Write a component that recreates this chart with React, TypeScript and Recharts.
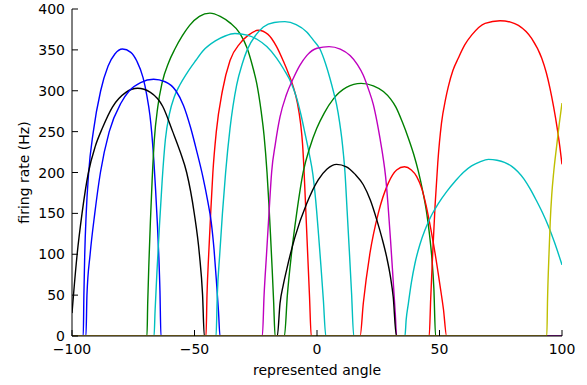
import React from 'react';
import { LineChart, Line, XAxis, YAxis } from 'recharts';

type Pt = [number, number];

// Tuning curves: [represented angle, firing rate (Hz)]
const blueA: Pt[] = [
  [-100, 0], [-95.4, 0], [-95.15, 50], [-94.8, 100], [-94.2, 150], [-93.2, 200], [-91.3, 250],
  [-88.3, 300], [-85.3, 330], [-82.5, 345], [-79.4, 351], [-76, 347], [-73.5, 336], [-71, 316],
  [-69.5, 295], [-68.2, 270], [-67.5, 250], [-66.6, 215], [-65.9, 180], [-65.2, 140],
  [-64.6, 100], [-64.1, 55], [-63.7, 0], [100, 0],
];
const greenA: Pt[] = [
  [-100, 0], [-69.4, 0], [-69.1, 40], [-68.6, 90], [-68, 140], [-67.3, 190], [-66.4, 240],
  [-65, 280], [-63.2, 310], [-60.5, 335], [-58, 351], [-55, 367], [-52, 380], [-48, 391],
  [-43.7, 395], [-39.5, 391], [-35.5, 383], [-31.4, 370], [-28.5, 352], [-26.3, 330],
  [-24.6, 309], [-22.8, 275], [-21.6, 245], [-20.4, 200], [-19.7, 165], [-19, 125],
  [-18.3, 82], [-17.7, 42], [-17.1, 0], [100, 0],
];
const redA: Pt[] = [
  [-100, 0], [-45.3, 0], [-44.9, 50], [-44.2, 100], [-43.4, 150], [-42.5, 200], [-41.1, 250],
  [-38.6, 300], [-35.5, 337], [-31.4, 358], [-28, 368], [-24, 374], [-20, 369], [-16.5, 354],
  [-13.7, 336], [-11.5, 320], [-9.7, 305], [-8, 285], [-6.7, 260], [-5.9, 235], [-5.3, 203],
  [-4.55, 152], [-3.8, 100], [-3.05, 48], [-2.35, 0], [100, 0],
];
const cyanA: Pt[] = [
  [-100, 0], [-66.5, 0], [-66.1, 30], [-65.3, 80], [-64.3, 135], [-63.2, 190], [-61.9, 240],
  [-60.2, 272], [-58.2, 293], [-56, 307], [-53, 322], [-49.5, 337], [-46.5, 349],
  [-41.5, 361], [-37.5, 367], [-33.5, 370], [-28.5, 368], [-24.5, 363], [-20.5, 354],
  [-16.5, 340], [-13.5, 326], [-10.3, 308], [-8.2, 290], [-6.5, 270], [-4.7, 245],
  [-3.1, 222], [-1.7, 198], [-0.5, 165], [0.6, 125], [1.6, 86], [2.6, 44], [3.6, 0], [100, 0],
];
const blackA: Pt[] = [
  [-100, 28], [-99.4, 50], [-97.9, 100], [-95.9, 150], [-93.3, 200], [-90.5, 232],
  [-87.5, 255], [-83.5, 280], [-78, 298], [-73.2, 303], [-68, 298], [-63, 281], [-58.9, 250],
  [-55.8, 225], [-53.2, 200], [-50.1, 150], [-48, 100], [-46.7, 50], [-46, 0], [100, 0],
];
const blueB: Pt[] = [
  [-100, 0], [-94.3, 0], [-93.9, 50], [-92.6, 100], [-90.7, 150], [-88.4, 200], [-84.8, 250],
  [-80, 285], [-76.6, 300], [-72, 310], [-66.7, 314], [-62, 311], [-57.6, 300], [-54.5, 282],
  [-51.6, 255], [-49, 225], [-46.6, 195], [-44.6, 165], [-43.2, 140], [-42, 105], [-41, 65],
  [-40.2, 30], [-39.6, 0], [100, 0],
];
const greenB: Pt[] = [
  [-100, 0], [-13.3, 0], [-12.1, 50], [-10.4, 101], [-8.3, 150], [-5.6, 201], [-3, 230],
  [-0.1, 254], [3, 273], [6.7, 290], [12, 304], [18, 309], [23, 306], [27.1, 299], [30, 290],
  [32.2, 280], [34.8, 262], [37.3, 242], [39.5, 222], [41.4, 201], [43.3, 175], [44.8, 150],
  [46, 122], [46.9, 95], [47.7, 58], [48.4, 0], [100, 0],
];
const redB: Pt[] = [
  [-100, 0], [17.6, 0], [18.9, 40], [21.6, 101], [25, 150], [29.1, 187], [32.5, 203],
  [35.7, 207], [38.5, 203], [40.7, 195], [42.8, 180], [44.5, 160], [46.5, 130], [48.2, 101],
  [50.2, 62], [51.6, 33], [52.9, 0], [100, 0],
];
const cyanB: Pt[] = [
  [-100, 0], [-41.2, 0], [-40.7, 50], [-39.7, 100], [-38.6, 150], [-37.3, 200], [-35.5, 254],
  [-32.8, 307], [-30.5, 333], [-28.5, 350], [-25, 368], [-21.9, 378], [-17.5, 383.5],
  [-13.1, 384.5], [-8.5, 381], [-4.2, 372], [-1.5, 362], [1.2, 351], [3.5, 333], [5.3, 315],
  [6.8, 298], [8, 283], [9.2, 262], [10.1, 242], [10.8, 222], [11.4, 201], [12.3, 153],
  [13.2, 104], [14.1, 53], [15, 0], [100, 0],
];
const magentaB: Pt[] = [
  [-100, 0], [-22.3, 0], [-21.6, 50], [-20.6, 100], [-19.6, 150], [-18.5, 201], [-17, 235],
  [-15.1, 268], [-12.5, 295], [-9.7, 315], [-7, 331], [-4.2, 343], [0, 352], [4.9, 354],
  [9.5, 351], [13.5, 343], [16.5, 332], [18.9, 319], [21, 302], [23, 283], [24.5, 262],
  [25.7, 242], [27, 218], [28, 195], [29, 160], [30, 118], [31, 72], [32, 25], [32.5, 0],
  [100, 0],
];
const blackB: Pt[] = [
  [-100, 0], [-16.2, 0], [-15.1, 40], [-13.8, 62], [-12.4, 81], [-9, 121], [-4.2, 162],
  [0.5, 191], [4, 204], [8, 210], [12, 207], [15.5, 198], [18.9, 185], [21.8, 166],
  [24.4, 142], [26.5, 120], [28.4, 97], [30, 72], [31.1, 48], [32.4, 0], [100, 0],
];
const redC: Pt[] = [
  [-100, 0], [45.8, 0], [46.4, 45], [47.2, 100], [48.2, 160], [49.3, 212], [50.8, 260],
  [52.5, 290], [53.6, 305], [55.5, 325], [57.7, 340], [60.3, 356], [63.1, 368],
  [68.6, 382.5], [74.7, 385.7], [79, 384], [82.2, 380], [87.6, 364], [91.7, 340],
  [93.6, 322], [95.1, 303], [96.6, 280], [98, 255], [99.1, 232], [100, 210],
];
const cyanC: Pt[] = [
  [-100, 0], [35.9, 0], [36.4, 20], [37.3, 40], [38.5, 65], [40, 89], [42, 112], [44.1, 130],
  [46.8, 148], [49.5, 162], [53, 177], [56.3, 189], [59.7, 200], [63.1, 208], [66.5, 213],
  [70, 216], [73.5, 215], [76.5, 212.5], [79.5, 207.5], [82, 201], [84.5, 192], [87, 180],
  [89.5, 166], [92, 151], [94.5, 134], [97, 114], [100, 87],
];
const yellowC: Pt[] = [
  [-100, 0], [93.8, 0], [94.1, 45], [94.7, 101], [95.2, 140], [95.8, 172], [96.6, 200],
  [97.8, 232], [98.9, 260], [100, 285],
];
const silent: Pt[] = [[-100, 0], [100, 0]];

const angleTicks = [-100, -50, 0, 50, 100];
const rateTicks = [0, 50, 100, 150, 200, 250, 300, 350, 400];

const COLORS = {
  b: '#0000ff',
  g: '#008000',
  r: '#ff0000',
  c: '#00bfbf',
  m: '#bf00bf',
  y: '#bfbf00',
  k: '#000000',
};

// Neurons in plotting order (color cycle b, g, r, c, m, y, k)
const neurons: { color: string; curve: Pt[] }[] = [
  { color: COLORS.b, curve: blueA },
  { color: COLORS.g, curve: greenA },
  { color: COLORS.r, curve: redA },
  { color: COLORS.c, curve: cyanA },
  { color: COLORS.m, curve: silent },
  { color: COLORS.y, curve: silent },
  { color: COLORS.k, curve: blackA },
  { color: COLORS.b, curve: blueB },
  { color: COLORS.g, curve: greenB },
  { color: COLORS.r, curve: redB },
  { color: COLORS.c, curve: cyanB },
  { color: COLORS.m, curve: magentaB },
  { color: COLORS.y, curve: silent },
  { color: COLORS.k, curve: blackB },
  { color: COLORS.b, curve: silent },
  { color: COLORS.g, curve: silent },
  { color: COLORS.r, curve: redC },
  { color: COLORS.c, curve: cyanC },
  { color: COLORS.m, curve: silent },
  { color: COLORS.y, curve: yellowC },
];

const FONT = '"DejaVu Sans", sans-serif';
const FS = 14;
const TICK_LEN = 6;

const fmt = (v: number) => (v < 0 ? `\u2212${Math.abs(v)}` : `${v}`);

const BottomTick = (props: any) => {
  const { x, y, payload } = props;
  return (
    <g>
      <line x1={x} x2={x} y1={y} y2={y - TICK_LEN} stroke="#000" strokeWidth={1} />
      <text x={x} y={y + 18} textAnchor="middle" fontFamily={FONT} fontSize={FS} fill="#000">
        {fmt(payload.value)}
      </text>
    </g>
  );
};

const TopTick = (props: any) => {
  const { x, y } = props;
  return <line x1={x} x2={x} y1={y} y2={y + TICK_LEN} stroke="#000" strokeWidth={1} />;
};

const LeftTick = (props: any) => {
  const { x, y, payload } = props;
  return (
    <g>
      <line x1={x} x2={x + TICK_LEN} y1={y} y2={y} stroke="#000" strokeWidth={1} />
      <text x={x - 7} y={y + 5} textAnchor="end" fontFamily={FONT} fontSize={FS} fill="#000">
        {fmt(payload.value)}
      </text>
    </g>
  );
};

const RightTick = (props: any) => {
  const { x, y } = props;
  return <line x1={x} x2={x - TICK_LEN} y1={y} y2={y} stroke="#000" strokeWidth={1} />;
};

const XLabel = (props: any) => {
  const vb = props.viewBox;
  return (
    <text
      x={vb.x + vb.width / 2}
      y={vb.y + 39}
      textAnchor="middle"
      fontFamily={FONT}
      fontSize={FS}
      fill="#000"
    >
      represented angle
    </text>
  );
};

const YLabel = (props: any) => {
  const vb = props.viewBox;
  const cx = 29;
  const cy = vb.y + vb.height / 2;
  return (
    <text
      x={cx}
      y={cy}
      transform={`rotate(-90 ${cx} ${cy})`}
      textAnchor="middle"
      fontFamily={FONT}
      fontSize={FS}
      fill="#000"
    >
      firing rate (Hz)
    </text>
  );
};

export default function App() {
  return (
    <div style={{ position: 'absolute', left: 0, top: 0, width: 587, height: 385, fontFamily: FONT }}>
      <LineChart width={587} height={385} margin={{ top: 9, right: 25, bottom: 0, left: 0 }}>
        <XAxis
          xAxisId="bottom"
          dataKey="x"
          type="number"
          domain={[-100, 100]}
          ticks={angleTicks}
          interval={0}
          height={49}
          tickSize={0}
          tickMargin={0}
          tickLine={false}
          tick={<BottomTick />}
          axisLine={{ stroke: '#000', strokeWidth: 1 }}
          allowDataOverflow
          label={<XLabel />}
        />
        <XAxis
          xAxisId="top"
          orientation="top"
          dataKey="x"
          type="number"
          domain={[-100, 100]}
          ticks={angleTicks}
          interval={0}
          height={0}
          tickSize={0}
          tickMargin={0}
          tickLine={false}
          tick={<TopTick />}
          axisLine={{ stroke: '#000', strokeWidth: 1 }}
          allowDataOverflow
        />
        <YAxis
          yAxisId="left"
          type="number"
          domain={[0, 400]}
          ticks={rateTicks}
          interval={0}
          width={72}
          tickSize={0}
          tickMargin={0}
          tickLine={false}
          tick={<LeftTick />}
          axisLine={{ stroke: '#000', strokeWidth: 1 }}
          allowDataOverflow
          label={<YLabel />}
        />
        <YAxis
          yAxisId="right"
          orientation="right"
          type="number"
          domain={[0, 400]}
          ticks={rateTicks}
          interval={0}
          width={0}
          tickSize={0}
          tickMargin={0}
          tickLine={false}
          tick={<RightTick />}
          axisLine={{ stroke: '#000', strokeWidth: 1 }}
          allowDataOverflow
        />
        {neurons.map((n, i) => (
          <Line
            key={i}
            xAxisId={i % 2 === 0 ? 'bottom' : 'top'}
            yAxisId={i % 2 === 0 ? 'left' : 'right'}
            data={n.curve.map(([x, y]) => ({ x, y }))}
            dataKey="y"
            type="monotone"
            stroke={n.color}
            strokeWidth={1.4}
            dot={false}
            activeDot={false}
            isAnimationActive={false}
          />
        ))}
      </LineChart>
    </div>
  );
}
